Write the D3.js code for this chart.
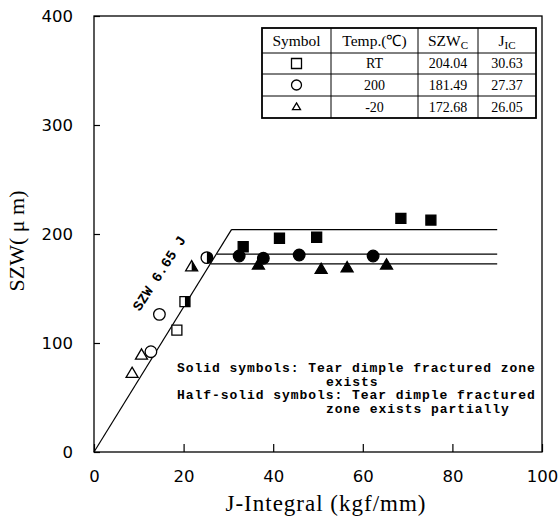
<!DOCTYPE html>
<html>
<head>
<meta charset="utf-8">
<script src="https://cdn.jsdelivr.net/npm/d3@7"></script>
<style>
body { margin: 0; background: #fff; }
</style>
</head>
<body>
<svg width="560" height="517"></svg>
<script>
// table / fitted lines
const temps = ["RT", "200", "-20"];
const szwc = [204.04, 181.49, 172.68];
const jic = [30.63, 27.37, 26.05];
const slope = 6.65;       // SZW = 6.65 J
const lineEndJ = 90;

// data points [J, SZW]
const squareOpen  = [[18.5, 111.9]];
const squareHalf  = [[20.3, 137.9]];
const squareSolid = [[33.3, 188.3], [41.4, 196.1], [49.7, 197.0], [68.5, 214.4], [75.2, 212.8]];
const circleOpen  = [[12.7, 92.0], [14.6, 126.3]];
const circleHalf  = [[25.2, 178.3]];
const circleSolid = [[32.4, 179.8], [37.8, 177.7], [45.8, 180.7], [62.3, 179.8]];
const triOpen     = [[8.5, 72.2], [10.6, 89.0]];
const triHalf     = [[21.8, 170.0]];
const triSolid    = [[36.7, 171.6], [50.7, 167.6], [56.5, 169.1], [65.3, 171.6]];

const xTicks = [0, 20, 40, 60, 80, 100];
const yTicks = [0, 100, 200, 300, 400];

const svg = d3.select("svg");
const mLeft = 94, mRight = 542, mTop = 16, mBottom = 452;

const x = d3.scaleLinear().domain([0, 100]).range([mLeft, mRight]);
const y = d3.scaleLinear().domain([0, 400]).range([mBottom, mTop]);

// axes, ticks pointing inward
const xAxis = d3.axisBottom(x).tickValues(xTicks).tickSizeInner(-8).tickSizeOuter(0).tickPadding(18);
const yAxis = d3.axisLeft(y).tickValues(yTicks).tickSizeInner(-6).tickSizeOuter(0).tickPadding(21);

const gx = svg.append("g").attr("transform", `translate(0,${mBottom})`).call(xAxis);
const gy = svg.append("g").attr("transform", `translate(${mLeft},0)`).call(yAxis);
[gx, gy].forEach(g => {
    g.select(".domain").remove();
    g.selectAll("line").attr("stroke", "#000").attr("stroke-width", 1.2);
    g.selectAll("text").attr("fill", "#000")
        .style("font-family", "'DejaVu Sans', sans-serif").style("font-size", "16.5px");
});

svg.append("rect")
    .attr("x", mLeft).attr("y", mTop)
    .attr("width", mRight - mLeft).attr("height", mBottom - mTop)
    .attr("fill", "none").attr("stroke", "#000").attr("stroke-width", 1.3);

// axis titles
svg.append("text")
    .attr("x", 326).attr("y", 511)
    .attr("text-anchor", "middle")
    .style("font-family", "'Liberation Serif', serif").style("font-size", "23px")
    .style("letter-spacing", "1px")
    .text("J-Integral  (kgf/mm)");

svg.append("text")
    .attr("transform", "translate(24,241) rotate(-90)")
    .attr("text-anchor", "middle")
    .style("font-family", "'Liberation Serif', serif").style("font-size", "22px")
    .text("SZW( \u03bc m)");

// fit lines
const plot = svg.append("g");
plot.append("line")
    .attr("x1", x(0)).attr("y1", y(0))
    .attr("x2", x(szwc[0] / slope)).attr("y2", y(szwc[0]))
    .attr("stroke", "#000").attr("stroke-width", 1.2);

plot.selectAll(".hline").data(szwc).join("line")
    .attr("class", "hline")
    .attr("x1", (d, i) => x(jic[i])).attr("x2", x(lineEndJ))
    .attr("y1", d => y(d)).attr("y2", d => y(d))
    .attr("stroke", "#000").attr("stroke-width", 1.2);

// slope label
svg.append("text")
    .attr("transform", "translate(159,273) rotate(-57)")
    .attr("text-anchor", "middle")
    .attr("dy", "0.35em")
    .style("font-family", "'Liberation Mono', monospace").style("font-size", "14px")
    .style("font-weight", "bold").style("letter-spacing", "0.2px")
    .text("SZW 6.65 J");

// marker shapes
function fullPath(type, r) {
    if (type === "square") return `M${-r},${-r}H${r}V${r}H${-r}Z`;
    if (type === "circle") return `M0,${-r}A${r},${r} 0 1 1 0,${r}A${r},${r} 0 1 1 0,${-r}Z`;
    const h = r * 1.7;
    return `M0,${-h * 0.6}L${r},${h * 0.4}L${-r},${h * 0.4}Z`;
}
function halfPath(type, r) {
    if (type === "square") return `M0,${-r}H${r}V${r}H0Z`;
    if (type === "circle") return `M0,${-r}A${r},${r} 0 0 1 0,${r}Z`;
    const h = r * 1.7;
    return `M0,${-h * 0.6}L${r},${h * 0.4}L0,${h * 0.4}Z`;
}
const sizes = { square: 5, circle: 5.8, triangle: 6 };

function drawMarkers(data, type, mode) {
    const r = sizes[type];
    const g = plot.append("g").selectAll("g").data(data).join("g")
        .attr("transform", d => `translate(${x(d[0])},${y(d[1])})`);
    g.append("path")
        .attr("d", fullPath(type, r))
        .attr("fill", mode === "solid" ? "#000" : "#fff")
        .attr("stroke", "#000").attr("stroke-width", 1.3);
    if (mode === "half") {
        g.append("path").attr("d", halfPath(type, r)).attr("fill", "#000");
    }
}

drawMarkers(squareOpen, "square", "open");
drawMarkers(squareHalf, "square", "half");
drawMarkers(squareSolid, "square", "solid");
drawMarkers(circleOpen, "circle", "open");
drawMarkers(circleHalf, "circle", "half");
drawMarkers(circleSolid, "circle", "solid");
drawMarkers(triOpen, "triangle", "open");
drawMarkers(triHalf, "triangle", "half");
drawMarkers(triSolid, "triangle", "solid");

// note text
const notes = [
    ["Solid symbols: Tear dimple fractured zone", 177],
    ["exists", 326],
    ["Half-solid symbols: Tear dimple fractured", 177],
    ["zone exists partially", 326]
];
svg.append("g").selectAll("text").data(notes).join("text")
    .attr("x", d => d[1])
    .attr("y", (d, i) => 372 + i * 13.7)
    .style("font-family", "'Liberation Mono', monospace").style("font-size", "13px")
    .style("font-weight", "bold").style("letter-spacing", "0.95px")
    .text(d => d[0]);

// table
const colEdges = [262, 331, 418, 478, 536];
const rowEdges = [28, 53, 74, 96, 118];
const table = svg.append("g");

table.selectAll(".vl").data(colEdges.slice(1, -1)).join("line")
    .attr("x1", d => d).attr("x2", d => d)
    .attr("y1", rowEdges[0]).attr("y2", rowEdges[4])
    .attr("stroke", "#000").attr("stroke-width", 1);
table.selectAll(".hl").data(rowEdges.slice(1, -1)).join("line")
    .attr("x1", colEdges[0]).attr("x2", colEdges[4])
    .attr("y1", d => d).attr("y2", d => d)
    .attr("stroke", "#000").attr("stroke-width", 1);
table.append("rect")
    .attr("x", colEdges[0]).attr("y", rowEdges[0])
    .attr("width", colEdges[4] - colEdges[0]).attr("height", rowEdges[4] - rowEdges[0])
    .attr("fill", "none").attr("stroke", "#000").attr("stroke-width", 1.8);

const colMid = i => (colEdges[i] + colEdges[i + 1]) / 2;
const rowMid = i => (rowEdges[i] + rowEdges[i + 1]) / 2;
const serif = "'Liberation Serif', serif";

function cell(col, row, size) {
    return table.append("text")
        .attr("x", colMid(col)).attr("y", rowMid(row))
        .attr("dy", "0.35em").attr("text-anchor", "middle")
        .style("font-family", serif).style("font-size", size + "px");
}
cell(0, 0, 15.5).text("Symbol");
cell(1, 0, 15.5).text("Temp.(\u2103)");
const h2 = cell(2, 0, 15.5);
h2.append("tspan").text("SZW");
h2.append("tspan").attr("dy", "3").style("font-size", "11px").text("C");
const h3 = cell(3, 0, 15.5);
h3.append("tspan").text("J");
h3.append("tspan").attr("dy", "3").style("font-size", "11px").text("IC");

const symbolTypes = ["square", "circle", "triangle"];
temps.forEach((t, i) => {
    const r = i === 2 ? 4 : 5;
    table.append("path")
        .attr("transform", `translate(${colMid(0)},${rowMid(i + 1)})`)
        .attr("d", fullPath(symbolTypes[i], r))
        .attr("fill", "#fff").attr("stroke", "#000").attr("stroke-width", 1.3);
    cell(1, i + 1, 14).text(t);
    cell(2, i + 1, 14).text(szwc[i].toFixed(2));
    cell(3, i + 1, 14).text(jic[i].toFixed(2));
});
</script>
</body>
</html>
